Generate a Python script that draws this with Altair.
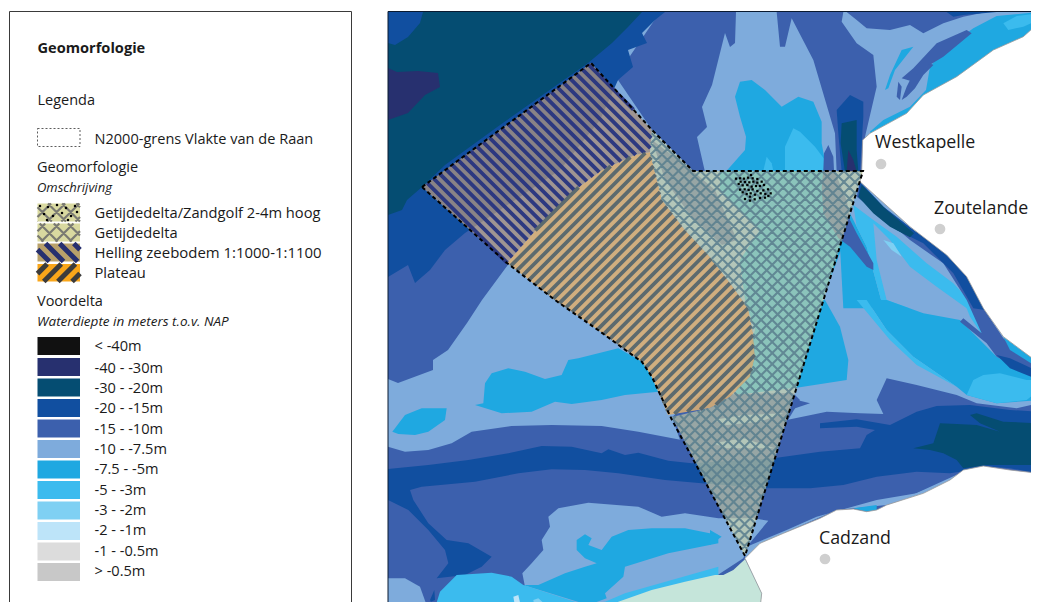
import math
import altair as alt

W, H = 1023, 594
C = dict(c40="#111111", c30="#27306f", c20="#054d72", c15="#114fa0", c10="#3c60ad", c75="#7eabdc",
         c5="#1fa8e1", c3="#3bbbee", c2="#7fd0f3", c1="#bde4f9", c05="#dcdcdc", c0="#c8c8c8", land="#c5e5da")

def z4(p): return [(710 + x / 3, y / 3) for x, y in p]
def z5(p): return [(385 + x / 3, 300 + y / 3) for x, y in p]
def z6(p): return [(710 + x / 3, 300 + y / 3) for x, y in p]

# ---- depth polygons, painted in order (map position in picture units)
DEPTH = [
 ("c75", [(388,12),(1039,12),(1039,610),(388,610)]),
 ("c10", [(388,270),(465,225),(510,262),(482,300),(467,323),(448,350),(433,360),(433,370),(398,383),(388,379)]),
 ("c10", [(660,12),(736,12),(735,43),(730,47),(725,33),(712,85),(702,107),(707,127),(697,137),(705,172),(693,171),(652,130),(618,80),(600,100)]),
 ("c15", [(388,12),(665,12),(655,20),(642,33),(647,43),(628,50),(633,67),(618,80),(600,120),(560,170),(500,210),(465,233),(445,250),(430,270),(415,283),(408,265),(388,277)]),
 ("c20", [(388,43),(395,45),(408,37),(420,23),(423,12),(642,12),(628,27),(612,43),(588,63),(500,125),(445,165),(422,187),(407,200),(402,210),(388,215)]),
 ("c30", [(388,68),(397,72),(418,71),(438,73),(440,87),(425,95),(408,113),(388,120)]),
 # north
 ("c10", z4([(200,35),(210,140),(225,140),(245,55),(310,180),(375,400),(380,515),(455,515),(465,410),(500,260),(490,165),(440,130),(395,65),(400,35)])),
 ("c10", z4([(410,35),(440,60),(470,85),(540,90),(600,75),(640,100),(700,70),(760,50),(830,36)])),
 ("c15", z4([(710,35),(730,50),(760,45),(860,35)])),
 ("c5", z4([(990,36),(860,48),(790,85),(700,150),(660,200),(648,270),(600,320),(520,360),(480,395),(480,430),(700,300),(990,120)])),
 ("c3", z4([(985,40),(920,48),(880,70),(895,90),(940,80),(985,60)])),
 ("c10", z4([(575,235),(610,205),(680,130),(770,90),(785,100),(700,170),(650,200),(610,245)])),
 ("c10", z4([(575,300),(590,260),(600,240),(660,190),(670,195),(640,225),(615,265),(590,290)])),
 ("c10", z4([(560,290),(565,245),(575,260),(570,300)])),
 ("c5", z4([(540,225),(575,150),(610,140),(555,210),(535,265),(525,270)])),
 ("c15", z4([(380,330),(420,285),(460,305),(460,350),(450,515),(395,515),(385,400)])),
 ("c20", z4([(395,370),(440,360),(440,450),(445,515),(405,515),(392,430)])),
 ("c30", z4([(415,450),(430,480),(440,515),(410,515)])),
 ("c5", z4([(50,512),(105,450),(108,410),(90,350),(75,290),(90,245),(125,240),(165,270),(215,320),(265,290),(310,305),(335,365),(335,430),(350,512)])),
 ("c3", z4([(225,512),(225,440),(250,385),(270,395),(315,440),(345,480),(350,512)])),
 ("c3", z4([(160,512),(170,470),(185,490),(190,512)])),
 # under the lattice
 ("c5", [(720,171),(830,171),(845,240),(822,300),(793,388),(735,395),(755,330),(745,300),(740,260),(760,230),(720,190)]),
 ("c10", [(652,140),(693,171),(715,190),(737,240),(722,245),(690,215),(665,180)]),
 # south-east channel
 ("c5", z6([(330,0),(345,0),(390,80),(415,180),(410,240),(250,265),(260,100)])),
 ("c5", z4([(420,640),(470,740),(520,925),(400,925),(390,740)])),
 ("c3", z4([(430,615),(490,660),(560,710),(650,790),(730,850),(800,925),(520,925),(470,740),(440,680)])),
 ("c75", z4([(490,670),(540,720),(600,800),(680,860),(770,925)])+z6([(770,50),(640,40),(530,0)])+z4([(500,780)])),
 ("c2", z4([(520,720),(550,730),(575,770),(545,750)])),
 ("c5", z6([(530,0),(640,40),(750,60),(860,170),(1000,240),(1000,300),(860,310),(770,285),(740,260),(610,170),(530,90),(470,0)])),
 ("c3", z6([(440,0),(470,0),(530,90),(610,170),(740,260),(620,195),(540,120)])),
 ("c3", z6([(770,285),(790,240),(820,225),(870,220),(950,240),(1000,240),(1000,270),(950,300),(860,310)])),
 ("c3", z6([(760,0),(800,0),(840,90),(820,110),(780,50)])),
 ("c10", z4([(340,510),(342,460),(355,435),(370,470),(372,510),(410,600),(420,660),(440,700),(490,790),(490,810),(470,800),(420,740),(385,715),(340,640),(335,560)])),
 ("c10", z4([(450,545),(520,620),(610,690),(710,760),(770,830),(820,925)])+z6([(880,115),(1000,195),(1000,240),(860,170),(830,130),(750,65),(760,55),(815,100),(770,0)])+z4([(770,900),(700,790),(600,720),(530,660),(440,590)])),
 ("c15", z4([(450,545),(520,620),(610,690),(710,760),(770,830),(825,930),(790,925),(730,820),(640,730),(560,690),(500,640),(445,590)])),
 ("c15", z6([(860,165),(900,175),(1000,215),(1000,240),(900,205)])),
 ("c5", z6([(880,110),(900,150),(1000,205),(1000,190)])),
 ("c20", z4([(455,555),(530,630),(612,700),(600,712),(540,680),(490,640),(445,590)])),
 # south bands
 ("c10", z5([(0,440),(60,455),(130,450),(200,430),(260,395),(380,378),(500,375),(650,378),(760,395),(890,420),(930,440)])+z6([(230,360),(350,335),(450,340),(520,342),(500,300),(530,235),(620,255),(740,285),(800,310),(920,325),(1000,310)])+[(1039,480)]+z6([(750,520),(530,620),(220,710),(105,770)])+[(745,610),(388,610)]),
 ("c10", [(672,417),(700,395),(793,393),(800,400),(770,450),(700,460),(680,440)]),
 ("c10", z6([(240,295),(300,310),(240,330)])),
 ("c15", z5([(0,507),(130,495),(250,480),(370,460),(470,438),(560,440),(650,460),(670,448),(720,465),(760,458),(850,482),(920,490)])+z6([(190,475),(330,455),(450,445),(470,405),(495,390),(440,380),(330,385),(330,370),(440,358),(540,375),(620,335),(680,318),(780,315),(900,330),(1000,335),(1000,520),(900,505),(820,498),(750,515),(720,520),(620,515),(500,530),(400,555),(300,565),(160,565)])+z5([(950,550),(840,540),(700,520),(600,510),(500,508),(400,520),(270,545),(110,560),(75,570),(85,600),(130,670),(185,720),(250,730),(320,770),(290,800),(240,825),(155,835),(190,790),(180,750),(130,690),(70,630),(0,600)])),
 ("c20", z6([(780,345),(800,340),(880,365),(1000,370),(1000,495),(900,495),(830,495),(760,505),(740,480),(700,460),(660,450),(610,445),(670,430),(680,400),(690,370),(740,372),(800,375),(870,395),(810,370)])),
 ("c75", z6([(10,360),(100,345),(220,340),(150,365),(50,375)])),
 ("c75", z6([(10,430),(100,415),(195,445),(50,445)])),
 ("c75", z5([(490,650),(520,625),(610,608),(760,620),(830,650),(900,640),(1000,655)])+z6([(130,655),(175,662),(115,735),(100,775)])+z5([(990,830),(800,880),(600,925),(420,860),(412,820),(440,790),(475,750),(470,720),(495,680)])),
 ("c75", z6([(110,740),(230,690),(320,650),(500,600),(620,580),(720,540),(640,580),(530,615),(380,630),(220,700),(105,770)])),
 ("c5", z6([(430,625),(500,615),(500,630),(470,635)])),
 ("c5", z6([(0,690),(35,710),(0,735)])),
 ("c5", z5([(270,315),(295,310),(300,250),(320,220),(370,205),(420,215),(480,237),(530,225),(550,180),(580,175),(700,145),(780,190),(820,275),(720,285),(650,300),(560,312),(510,305),(440,335),(350,340)])),
 ("c5", z5([(22,395),(60,345),(110,325),(185,325),(180,360),(130,395),(90,405),(40,402)])),
 ("c5", z5([(650,750),(680,710),(730,690),(800,685),(900,685),(1000,705),(1000,730),(850,760),(720,800),(715,830),(660,880),(665,895),(610,915),(415,855),(460,855),(540,820),(600,800),(635,790),(600,775),(575,750),(575,720),(600,703),(620,715),(610,735)])),
 ("c75", z5([(0,835),(60,835),(105,860),(130,930),(0,930)])),
 ("c3", z5([(148,930),(165,875),(215,825),(320,818),(380,830),(415,855),(600,915),(660,905),(720,880),(1000,800),(1000,830),(670,930)])),
 ("c1", z5([(385,890),(400,885),(410,930),(392,930)])),
 ("c2", z5([(445,900),(460,895),(500,930),(450,930)])),
 ("c15", z5([(135,900),(148,870),(150,900),(138,905)])),
]

# ---- land
LAND_WHITE = [
 z4([(985,34),(985,70),(940,110),(850,150),(740,230),(640,285),(590,340),(480,400),(458,420),(455,520),(450,545),(500,590),(600,680),(710,765),(770,830),(820,925)])+z6([(880,110),(990,190)]),
 z6([(990,520),(900,510),(820,498),(760,510),(720,540),(640,580),(530,615),(500,630),(470,635),(430,627),(380,630),(330,655),(220,700),(150,730),(105,775),(155,880),(150,930),(990,930)]),
]
LAND_GREEN = z6([(105,778),(155,880),(150,930)])+z5([(670,930),(700,905),(800,870),(900,845),(990,825)])+z6([(40,825),(70,810)])

# ---- overlays
N2000 = [(422,187),(591,63),(652,130),(672,150),(693,171),(863,171),(745,556),(672,420),(652,377),(642,362),(598,330),(555,300),(507,263)]
HELLING = [(422,187),(591,63),(652,130),(650,152),(635,155),(602,170),(575,190),(542,223),(507,263)]
PLATEAU = [(650,152),(635,155),(602,170),(575,190),(542,223),(507,263),(555,300),(598,330),(642,362),(652,377),(668,415),(710,408),(730,397),(750,377),(755,357),(753,333),(748,308),(730,283),(710,257),(685,230),(662,200),(652,160)]
DELTA = [(652,130),(672,150),(693,171),(863,171),(745,556),(672,417),(710,408),(730,397),(750,377),(755,357),(753,333),(748,308),(730,283),(710,257),(685,230),(662,200),(652,160),(650,152)]
ZANDGOLF_DOTS = [(153,135),(108,146),(120,145),(132,146),(144,143),(158,145),(172,147),(122,155),(135,156),(148,157),(160,155),(185,155),(172,158),(116,162),(128,166),(142,165),(155,170),(168,168),(180,168),(192,165),(120,179),(134,178),(146,180),(158,178),(172,183),(190,181),(204,178),(128,187),(140,192),(152,190),(165,194),(182,190),(196,192),(212,190),(135,207),(150,212),(164,208),(180,204),(195,203),(205,198),(150,200)]

PLACES = ["Westkapelle", "Zoutelande", "Cadzand"]
PLACE_LABEL_X = [875, 934, 819]
PLACE_LABEL_Y = [148, 214, 544]
PLACE_DOT_X = [881, 940, 825]
PLACE_DOT_Y = [164, 229, 559]

# ---- legend
DEPTH_LABELS = ["< -40m","-40 - -30m","-30 - -20m","-20 - -15m","-15 - -10m","-10 - -7.5m","-7.5 - -5m","-5 - -3m","-3 - -2m","-2 - -1m","-1 - -0.5m","> -0.5m"]
DEPTH_KEYS = ["c40","c30","c20","c15","c10","c75","c5","c3","c2","c1","c05","c0"]
DEPTH_TOP = [337,358,378.5,399,419.5,440,460.5,481,501.5,522,542.5,563]
DEPTH_BASE = [351,372.5,392.5,412.5,433.5,453.5,473.5,494.5,514.5,534.5,555.5,575.5]
GEO_LABELS = ["Getijdedelta/Zandgolf 2-4m hoog","Getijdedelta","Helling zeebodem 1:1000-1:1100","Plateau"]
GEO_SIZE = [14.7,14.7,14.95,14.7]
GEO_TOP = [203.5,223.5,243.5,264]
GEO_BOT = [221.5,241.5,261.5,281.5]
GEO_BASE = [217.5,237.5,257.5,277.5]
TEXTS = [
 ("Geomorfologie",37.5,52.5,"bold","normal",14.6),
 ("Legenda",37.5,105,"normal","normal",14.5),
 ("N2000-grens Vlakte van de Raan",94.5,144,"normal","normal",14.55),
 ("Geomorfologie",37,171.5,"normal","normal",14.5),
 ("Omschrijving",37,191.5,"normal","italic",13),
 ("Voordelta",37,306,"normal","normal",14.5),
 ("Waterdiepte in meters t.o.v. NAP",37,326,"normal","italic",13.5),
]

def clamp(p):
    return [[min(1039, max(388, x)), min(610, max(12, y))] for x, y in p]

def poly_feature(p, **props):
    r = [list(q) for q in p]
    r.append(r[0])
    return {"type": "Feature", "properties": props, "geometry": {"type": "Polygon", "coordinates": [r]}}

def line_feature(lines, **props):
    return {"type": "Feature", "properties": props, "geometry": {"type": "MultiLineString", "coordinates": lines}}

def hatch(poly, sign, step, phase=0.0):
    """Clip parallel 45-degree lines to a polygon (even-odd)."""
    a = math.radians(45)
    ux, uy = math.cos(a), sign * math.sin(a)   # line direction
    vx, vy = -uy, ux
    proj = [x * vx + y * vy for x, y in poly]
    out = []
    k = math.floor((min(proj) - phase) / step)
    n = len(poly)
    while phase + k * step <= max(proj):
        c = phase + k * step
        ts = []
        for i in range(n):
            (x1, y1), (x2, y2) = poly[i], poly[(i + 1) % n]
            d1, d2 = x1 * vx + y1 * vy - c, x2 * vx + y2 * vy - c
            if (d1 < 0) != (d2 < 0):
                f = d1 / (d1 - d2)
                ts.append((x1 + f * (x2 - x1)) * ux + (y1 + f * (y2 - y1)) * uy)
        ts.sort()
        for t0, t1 in zip(ts[0::2], ts[1::2]):
            out.append([[t0 * ux + c * vx, t0 * uy + c * vy], [t1 * ux + c * vx, t1 * uy + c * vy]])
        k += 1
    return out

def rect(x0, y0, x1, y1):
    return [(x0, y0), (x1, y0), (x1, y1), (x0, y1)]

PROJ = dict(type="identity", scale=1, translate=[-8, -8])
sx = alt.Scale(domain=[8, 8 + W], range=[0, W])
sy = alt.Scale(domain=[8, 8 + H], range=[0, H])

def fills(features, **kw):
    return alt.Chart(alt.Data(values=features)).mark_geoshape(**kw).encode(
        fill=alt.Fill("properties.c:N", scale=None),
        opacity=alt.Opacity("properties.o:Q", scale=None),
    ).project(**PROJ)

def strokes(lines, color, width, opacity=1.0, dash=None):
    kw = dict(filled=False, stroke=color, strokeWidth=width, strokeOpacity=opacity)
    if dash:
        kw["strokeDash"] = dash
    return alt.Chart(alt.Data(values=[line_feature(lines)])).mark_geoshape(**kw).project(**PROJ)

layers = []
base = [poly_feature(clamp(p), c=C[k], o=1) for k, p in DEPTH]
base += [poly_feature(clamp(p), c="#ffffff", o=1) for p in LAND_WHITE]
base += [poly_feature(clamp(LAND_GREEN), c=C["land"], o=1)]
layers.append(fills(base, strokeWidth=0))
layers.append(strokes([clamp(p) for p in LAND_WHITE], "#9a9a9a", 0.8))

over = [poly_feature(HELLING, c="#a8907f", o=0.8),
        poly_feature(PLATEAU, c="#dcae72", o=0.88),
        poly_feature(DELTA, c="#d9d9a0", o=0.58)]
layers.append(fills(over, strokeWidth=0))
layers.append(strokes(hatch(HELLING, 1, 7.6, 2), "#27347f", 3.8, 0.95))
layers.append(strokes(hatch(PLATEAU, -1, 7.6, 2), "#55666e", 3.7, 0.95))
layers.append(strokes(hatch(DELTA, 1, 7.8) + hatch(DELTA, -1, 7.8), "#5b7f8e", 2.1, 0.88))
layers.append(strokes([[list(q) for q in N2000 + [N2000[0]]]], "#000000", 2, 1, [4, 3]))

# legend swatches
swatch = []
g0, g1 = rect(37.5, GEO_TOP[0], 80, GEO_BOT[0]), rect(37.5, GEO_TOP[1], 80, GEO_BOT[1])
g2, g3 = rect(37.5, GEO_TOP[2], 80, GEO_BOT[2]), rect(37.5, GEO_TOP[3], 80, GEO_BOT[3])
swatch += [poly_feature(g0, c="#d9d9a0", o=1), poly_feature(g1, c="#d9d9a0", o=1),
           poly_feature(g2, c="#b9a16a", o=1), poly_feature(g3, c="#f9a61a", o=1)]
for key, top in zip(DEPTH_KEYS, DEPTH_TOP):
    swatch.append(poly_feature(rect(37.5, top, 80, top + 18), c=C[key], o=1))
layers.append(fills(swatch, strokeWidth=0))
layers.append(strokes(hatch(g0, 1, 10) + hatch(g0, -1, 10) + hatch(g1, 1, 10) + hatch(g1, -1, 10), "#7a7a72", 2.2))
layers.append(strokes(hatch(g2, 1, 10), "#27306f", 5))
layers.append(strokes(hatch(g3, -1, 10), "#3c3c3c", 5))
layers.append(strokes([[list(q) for q in rect(37.5, 128.5, 80, 146.5)] + [[37.5, 128.5]]], "#333333", 0.8, 1, [2, 2]))

pts = [{"x": 700 + x / 3, "y": 130 + y / 3} for x, y in ZANDGOLF_DOTS]
leg_dots = [{"x": x, "y": y} for x, y in
            [(40,206),(48,207),(57,205),(66,208),(75,206),(44,214),(53,216),(62,213),(71,216),(77,212),(47,220),(68,220)]]
layers.append(alt.Chart(alt.Data(values=pts + leg_dots)).mark_point(shape="square", filled=True, color="#000000", size=5, opacity=1).encode(
    x=alt.X("x:Q", scale=sx, axis=None), y=alt.Y("y:Q", scale=sy, axis=None)))

# frames
frame = [{"x": 9.5, "x2": 351.5, "y": 11.5, "y2": 640}]
layers.append(alt.Chart(alt.Data(values=frame)).mark_rect(fillOpacity=0, stroke="#3a3a3a", strokeWidth=1).encode(
    x=alt.X("x:Q", scale=sx, axis=None), x2="x2:Q", y=alt.Y("y:Q", scale=sy, axis=None), y2="y2:Q"))
layers.append(alt.Chart(alt.Data(values=[{"x": 388, "x2": 1060, "y": 11.5, "y2": 640}])).mark_rect(fillOpacity=0, stroke="#0a1a30", strokeWidth=1).encode(
    x=alt.X("x:Q", scale=sx, axis=None), x2="x2:Q", y=alt.Y("y:Q", scale=sy, axis=None), y2="y2:Q"))

# places
dots = [{"x": x, "y": y} for x, y in zip(PLACE_DOT_X, PLACE_DOT_Y)]
layers.append(alt.Chart(alt.Data(values=dots)).mark_circle(color="#cfcfcf", size=115, opacity=1).encode(
    x=alt.X("x:Q", scale=sx, axis=None), y=alt.Y("y:Q", scale=sy, axis=None)))

FONT = "Open Sans"
rows = [{"t": t, "x": x, "y": y, "w": w, "s": s, "z": z} for t, x, y, w, s, z in TEXTS]
rows += [{"t": t, "x": 94.5, "y": y, "w": "normal", "s": "normal", "z": z} for t, y, z in zip(GEO_LABELS, GEO_BASE, GEO_SIZE)]
rows += [{"t": t, "x": 94.5, "y": y, "w": "normal", "s": "normal", "z": 14.6} for t, y in zip(DEPTH_LABELS, DEPTH_BASE)]
rows += [{"t": t, "x": x, "y": y, "w": "normal", "s": "normal", "z": 17.8} for t, x, y in zip(PLACES, PLACE_LABEL_X, PLACE_LABEL_Y)]

def text_layer(rs, **kw):
    return alt.Chart(alt.Data(values=rs)).mark_text(align="left", baseline="alphabetic", font=FONT, color="#1a1a1a", **kw).encode(
        x=alt.X("x:Q", scale=sx, axis=None), y=alt.Y("y:Q", scale=sy, axis=None),
        text="t:N", size=alt.Size("z:Q", scale=None))
layers.append(text_layer([r for r in rows if r["w"] == "normal" and r["s"] == "normal"]))
layers.append(text_layer([r for r in rows if r["w"] == "bold"], fontWeight="bold"))
layers.append(text_layer([r for r in rows if r["s"] == "italic"], fontStyle="italic"))

chart = alt.layer(*layers).properties(
    width=W, height=H, padding=0, autosize=alt.AutoSizeParams(type="none")
).configure_view(stroke=None)
chart.save("out.html", embed_options={"renderer": "svg", "actions": False})
